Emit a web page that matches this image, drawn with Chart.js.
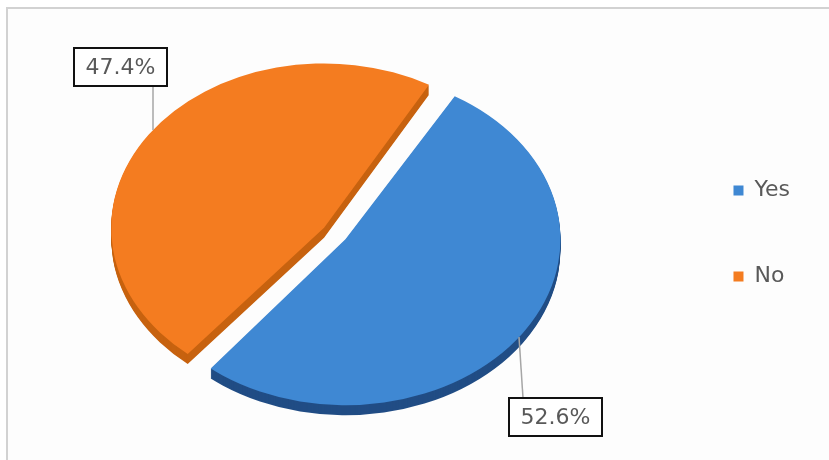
<!DOCTYPE html>
<html>
<head>
<meta charset="utf-8">
<script src="https://cdn.jsdelivr.net/npm/chart.js@4.4.1/dist/chart.umd.min.js"></script>
<style>
  html, body { margin: 0; padding: 0; background: #fff; }
  #wrap { position: relative; width: 829px; height: 460px; }
</style>
</head>
<body>
<div id="wrap"><canvas id="c" width="829" height="460"></canvas></div>
<script>
// Survey answers and their shares (percent)
const categories = ['Yes', 'No'];
const shares = [52.6, 47.4];
const sliceColors = ['#3f88d3', '#f47c20'];
const sideColors = ['#214d85', '#c7620f'];

const TILT = 0.772;   // vertical squash giving the pie its 3-D look
const DEPTH = 10;     // thickness of the pie side, px

// Geometry of a slice as the arc element paints it (offset shift + radius growth)
function sliceGeom(arc) {
  const off = (arc.options.offset || 0) / 4;
  const circ = arc.endAngle - arc.startAngle;
  const fix = 1 - Math.sin(Math.min(Math.PI, circ));
  const mid = (arc.startAngle + arc.endAngle) / 2;
  return {
    cx: arc.x + Math.cos(mid) * off,
    cy: arc.y + Math.sin(mid) * off,
    r: arc.outerRadius + off * fix
  };
}

// Light frame behind the chart
const framePlugin = {
  id: 'frame',
  beforeDraw(chart) {
    const ctx = chart.ctx;
    ctx.save();
    ctx.fillStyle = '#ffffff';
    ctx.fillRect(0, 0, chart.width, chart.height);
    ctx.fillStyle = '#fdfdfd';
    ctx.fillRect(7, 8, chart.width - 7, chart.height - 8);
    ctx.strokeStyle = '#d2d2d2';
    ctx.lineWidth = 2;
    ctx.beginPath();
    ctx.moveTo(7, chart.height);
    ctx.lineTo(7, 8);
    ctx.lineTo(chart.width, 8);
    ctx.stroke();
    ctx.restore();
  }
};

// Squash the pie vertically and paint its side wall underneath
const tiltPlugin = {
  id: 'tilt',
  beforeDatasetsDraw(chart) {
    const ctx = chart.ctx;
    const meta = chart.getDatasetMeta(0);
    const pivot = meta.data[0].y;
    ctx.save();
    ctx.translate(0, pivot);
    ctx.scale(1, TILT);
    ctx.translate(0, -pivot);
    for (let d = DEPTH; d >= 1; d--) {
      ctx.save();
      ctx.translate(0, d / TILT);
      meta.data.forEach((arc, i) => {
        const orig = arc.options;
        arc.options = Object.assign({}, orig, { backgroundColor: sideColors[i], borderWidth: 0 });
        arc.draw(ctx);
        arc.options = orig;
      });
      ctx.restore();
    }
  },
  afterDatasetsDraw(chart) {
    chart.ctx.restore();
  }
};

// Boxed percentage labels with leader lines
const calloutPlugin = {
  id: 'callouts',
  afterDraw(chart, args, opts) {
    const ctx = chart.ctx;
    const meta = chart.getDatasetMeta(0);
    const values = chart.data.datasets[0].data;
    meta.data.forEach((arc, i) => {
      const spot = opts.spots[i];
      const g = sliceGeom(arc);
      const pivot = arc.y;
      const sy = pivot + (g.cy - pivot) * TILT;
      const dx = (spot.edgeX - g.cx) / g.r;
      const h = g.r * TILT * Math.sqrt(Math.max(0, 1 - dx * dx));
      const edgeY = spot.side === 'top' ? sy - h : sy + h;
      const [bx, by, bw, bh] = spot.box;
      const boxEdge = spot.side === 'top' ? by + bh : by;

      ctx.save();
      ctx.strokeStyle = '#a6a6a6';
      ctx.lineWidth = 1.5;
      ctx.beginPath();
      ctx.moveTo(spot.edgeX, edgeY);
      ctx.lineTo(spot.boxX, boxEdge);
      ctx.stroke();

      ctx.fillStyle = '#ffffff';
      ctx.fillRect(bx, by, bw, bh);
      ctx.strokeStyle = '#111111';
      ctx.lineWidth = 2;
      ctx.strokeRect(bx, by, bw, bh);

      ctx.fillStyle = '#595959';
      ctx.font = '22px "DejaVu Sans"';
      ctx.textAlign = 'center';
      ctx.textBaseline = 'middle';
      ctx.fillText(values[i].toFixed(1) + '%', bx + bw / 2, by + bh / 2 + 1);
      ctx.restore();
    });
  }
};

new Chart(document.getElementById('c'), {
  type: 'pie',
  data: {
    labels: categories,
    datasets: [{
      data: shares,
      backgroundColor: sliceColors,
      borderWidth: 0,
      offset: 52,
      clip: false
    }]
  },
  options: {
    responsive: false,
    animation: false,
    events: [],
    rotation: 30,
    radius: 202,
    layout: { padding: { left: 0, right: 29, top: 17, bottom: 10 } },
    plugins: {
      tooltip: { enabled: false },
      legend: {
        position: 'right',
        align: 'center',
        labels: {
          boxWidth: 10,
          boxHeight: 10,
          padding: 64,
          color: '#595959',
          font: { family: 'DejaVu Sans', size: 22 }
        }
      },
      callouts: {
        spots: [
          { box: [509, 398, 93, 38], side: 'bottom', edgeX: 519, boxX: 523 },
          { box: [74, 48, 93, 38], side: 'top', edgeX: 153, boxX: 153 }
        ]
      }
    }
  },
  plugins: [framePlugin, tiltPlugin, calloutPlugin]
});
</script>
</body>
</html>
